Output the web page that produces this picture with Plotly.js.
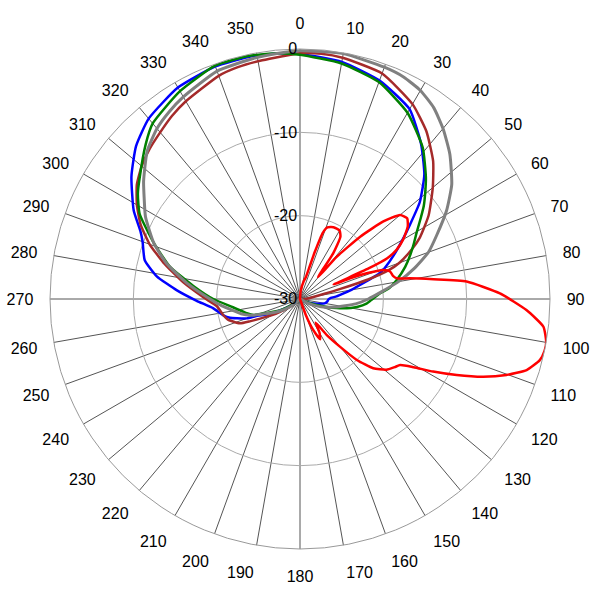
<!DOCTYPE html>
<html>
<head>
<meta charset="utf-8">
<script src="https://cdn.plot.ly/plotly-3.0.1.min.js"></script>
<style>html,body{margin:0;padding:0;background:#fff;}#chart{width:600px;height:600px;}</style>
</head>
<body>
<div id="chart"></div>
<script>
// Angular tick labels
const angleTicks = [0,10,20,30,40,50,60,70,80,90,100,110,120,130,140,150,160,170,180,190,200,210,220,230,240,250,260,270,280,290,300,310,320,330,340,350];
const radialTicks = [-30,-20,-10,0];

// Blue series
const blueTheta = [0,10,20,30,38,45,51,56,60,65,70,72,76,80,83,86,88,91,95,100,108,115,120,180,230,238,245,248.5,250,253,255,258,264,269,274,279,284,290,293,298,306,313,320,330,340,348,355,360];
const blueR = [-0.6,-1.1,-2.1,-3.7,-6.4,-8.9,-11.5,-14.1,-15.8,-17.6,-19.2,-19.9,-22.2,-23.8,-24.8,-25.6,-26.3,-26.6,-26.7,-27.0,-28.3,-29,-29.5,-30,-29.2,-27.8,-25.6,-24.5,-23.2,-22.1,-21.3,-20.6,-19.5,-17.6,-15.2,-12.6,-10.8,-9.9,-9.2,-7.4,-5.0,-3.1,-1.75,-0.7,-0.3,-0.3,-0.4,-0.6];

// Brown series
const brownTheta = [0,5,10,20,30,37,44,50,57,63,66,70,72,74,76,78,82,90,100,180,228,232,238,242,246,248,254,258,265,271,278,285,290,295,300,305,310,315,320,325,330,340,345,351,360];
const brownR = [-0.5,-0.45,-0.6,-1.2,-3.0,-4.8,-7.0,-9.2,-11.6,-13.9,-15.3,-17.3,-18.8,-21.5,-25,-27,-28.5,-29.3,-29.7,-30,-29.5,-28.5,-26.8,-25.5,-23.4,-22.2,-21,-20.6,-20,-18.4,-15.9,-13.0,-10.8,-8.9,-7.4,-6.1,-5.2,-4.5,-3.9,-3.2,-2.6,-1.5,-1.2,-1.0,-0.5];

// Green series
const greenTheta = [0,10,20,30,39,46,50,53,56,60,64,68,73,79,83,86,90,94,98,100,104,110,115,120,180,228,235,240,247,251,255,263,270,277,284,291,298,303,307,315,320,330,340,348,355,360];
const greenR = [-0.7,-1.3,-2.3,-4.2,-6.6,-9.0,-10.4,-11.4,-12.5,-13.8,-14.8,-15.7,-16.8,-18.2,-19.2,-20.4,-21.3,-22,-23.1,-23.8,-25.5,-27.9,-29,-29.6,-30,-29.4,-28.5,-27.3,-25.7,-24.1,-23.4,-21.9,-19.6,-17.1,-13.9,-11.2,-8.2,-6.8,-5.9,-3.8,-2.5,-1.2,-0.2,-0.2,-0.4,-0.7];

// Gray series
const grayTheta = [0,10,20,25,30,35,40,46,53,59,65,70,75,80,85,90,95,103,110,114,120,180,228,232,240,246,252,256,260,265,270,278,285,291,298,303,307,314,320,325,330,340,349,355,360];
const grayR = [-0.2,-0.1,-0.4,-0.6,-1.1,-2.0,-3.3,-5.0,-7.2,-9.5,-11.9,-13.6,-15.8,-18.0,-20.2,-21.8,-23.3,-25.7,-27.3,-28.2,-29.2,-30,-29.3,-28.5,-27,-25.7,-23.7,-22.7,-21.9,-20.6,-19.2,-16.3,-13.4,-11.2,-9.0,-7.7,-6.5,-4.5,-3.3,-2.6,-2.0,-0.9,-0.6,-0.4,-0.2];

// Red series
const redTheta = [0,5,12,15,16.5,17.5,19,21,25,30,33,36,38,39.5,41,44,47,50,53,56,60,63,65,66,66.8,67.5,69,71,73,76,78,79.3,81.6,84,88.4,92.8,96.5,100,102,104.3,107.4,110.2,113,115.9,118.6,121,123.4,125.7,129.3,133.4,137,140,143.4,146.5,150,153.5,157,160,165,180,355,360];
const redR = [-30,-29,-27.8,-27.3,-26,-24,-21.6,-20.8,-20.5,-20.5,-21.1,-23.2,-25.8,-26.6,-23.3,-19.6,-16.4,-14.3,-13.9,-14.4,-15.7,-17,-18.5,-21,-25.6,-23.5,-21.3,-19.3,-18.7,-18.5,-18.1,-16.6,-13.8,-9.9,-6.0,-2.8,-0.6,0,0,-0.3,-1.5,-3.6,-6.1,-9.1,-11.8,-14.1,-15.6,-16,-16.6,-17.9,-20,-22.5,-24.6,-26.6,-25.3,-24.6,-26,-28,-30,-30,-30,-30];

function tr(theta, r, color, width) {
  return {type: 'scatterpolar', mode: 'lines', theta: theta, r: r,
          line: {color: color, width: width, shape: 'spline', smoothing: 0.5}, hoverinfo: 'skip'};
}

const data = [
  tr(blueTheta, blueR, '#0000FF', 2.5),
  tr(brownTheta, brownR, '#A52A2A', 2.5),
  tr(greenTheta, greenR, '#008000', 2.5),
  tr(grayTheta, grayR, '#808080', 3),
  tr(redTheta, redR, '#FF0000', 2.5)
];

const layout = {
  width: 600, height: 600,
  margin: {l: 50, r: 50, t: 49, b: 51},
  paper_bgcolor: '#ffffff',
  showlegend: false,
  font: {family: 'Liberation Sans, Arial, sans-serif', size: 16, color: '#000'},
  polar: {
    domain: {x: [0, 1], y: [0, 1]},
    bgcolor: '#ffffff',
    angularaxis: {
      rotation: 90, direction: 'clockwise',
      tickmode: 'array', tickvals: angleTicks, ticktext: angleTicks.map(String),
      showgrid: true, gridcolor: '#555555', gridwidth: 1,
      showline: true, linecolor: '#999999', linewidth: 1,
      ticks: 'outside', ticklen: 13, tickcolor: 'rgba(0,0,0,0)',
      tickfont: {size: 16, color: '#000'}
    },
    radialaxis: {
      range: [-30, 0], angle: 90, side: 'counterclockwise',
      tickmode: 'array', tickvals: radialTicks, ticktext: radialTicks.map(String),
      showgrid: true, gridcolor: '#aaaaaa', gridwidth: 1,
      showline: false, ticks: '', tickangle: 90,
      tickfont: {size: 16, color: '#000'}
    }
  }
};

Plotly.newPlot('chart', data, layout, {staticPlot: true});
</script>
</body>
</html>
